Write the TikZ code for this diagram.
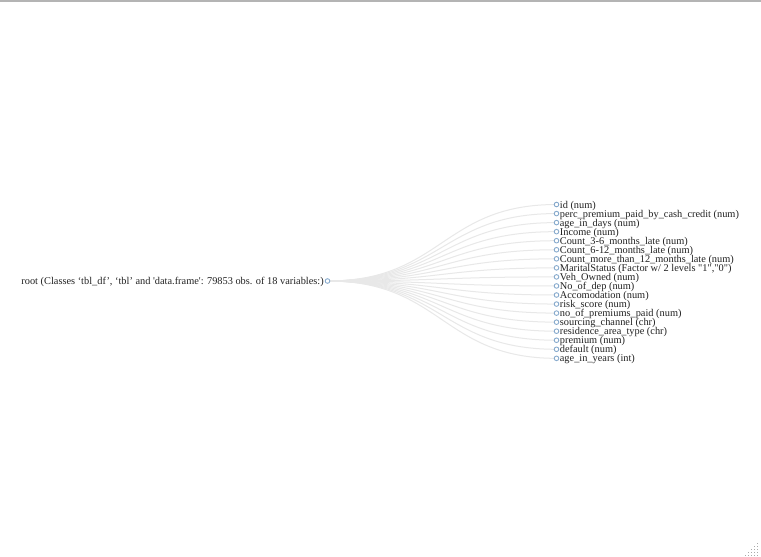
\documentclass[tikz,border=0pt]{standalone}
\usepackage{fontspec}
\newfontfamily\tnr{Liberation Serif}
\usetikzlibrary{backgrounds}
\definecolor{nodeblue}{RGB}{135,170,205}
\definecolor{linkgray}{RGB}{232,232,232}
\definecolor{txt}{RGB}{34,34,34}
\definecolor{topline}{RGB}{180,180,180}
\definecolor{grip}{RGB}{170,170,170}
\tikzset{
  dot/.style={circle, draw=nodeblue, fill=white, line width=0.9pt, minimum size=4.6pt, inner sep=0pt},
  lbl/.style={font=\tnr\fontsize{10.35}{11}\selectfont, text=txt, inner sep=0pt},
  link/.style={draw=linkgray, line width=1pt},
}
\begin{document}
\begin{tikzpicture}[x=1pt,y=-1pt]
\useasboundingbox (0,0) rectangle (761,557);
\begin{scope}[on background layer]
\fill[white] (0,0) rectangle (761,557);
\end{scope}
\draw[topline, line width=1.5pt] (0,0.75) -- (761,0.75);
\foreach \i in {0,...,4}{
  \foreach \j in {0,...,\i}{
    \fill[grip] ({757-3*\j},{543+3*\i}) rectangle ++(1.2,1.2);
  }
}
\coordinate (mid) at (442,0);
\node[dot] (root) at (327.5,281) {};
\node[lbl, anchor=base east] (rootlbl) at ([xshift=-3.5pt, yshift=-3.6pt]root.center)
  {root (Classes ‘tbl\_df’, ‘tbl’ and 'data.frame': 79853 obs. of 18 variables:)};
\foreach \t [count=\i] in {
  {id (num)},
  {perc\_premium\_paid\_by\_cash\_credit (num)},
  {age\_in\_days (num)},
  {Income (num)},
  {Count\_3-6\_months\_late (num)},
  {Count\_6-12\_months\_late (num)},
  {Count\_more\_than\_12\_months\_late (num)},
  {MaritalStatus (Factor w/ 2 levels "1","0")},
  {Veh\_Owned (num)},
  {No\_of\_dep (num)},
  {Accomodation (num)},
  {risk\_score (num)},
  {no\_of\_premiums\_paid (num)},
  {sourcing\_channel (chr)},
  {residence\_area\_type (chr)},
  {premium (num)},
  {default (num)},
  {age\_in\_years (int)}}{
  \node[dot] (c\i) at (556.5,{204.5+(\i-1)*9.05}) {};
  \node[lbl, anchor=base west] (t\i) at ([xshift=3.2pt, yshift=-3.6pt]c\i.center) {\t};
  \begin{scope}[on background layer]
    \draw[link] (root.center) .. controls (mid |- root) and (mid |- c\i) .. (c\i.center);
  \end{scope}
}
\end{tikzpicture}
\end{document}
